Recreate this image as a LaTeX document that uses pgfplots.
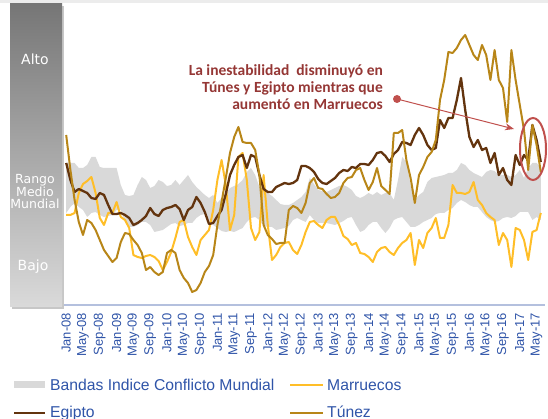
\documentclass[border=0pt]{standalone}
\usepackage{pgfplots}
\pgfplotsset{compat=1.18}
\usepackage{pgfplotstable}
\usepgfplotslibrary{fillbetween}
\usetikzlibrary{arrows.meta}
\usepackage{fontspec}
\setmainfont{Liberation Sans}
\newfontfamily\calibri{Carlito}
\newfontfamily\verd{DejaVu Sans}
\definecolor{bandgray}{RGB}{217,217,217}
\definecolor{marr}{RGB}{255,190,40}
\definecolor{egip}{RGB}{99,52,14}
\definecolor{tun}{RGB}{184,134,24}
\definecolor{lblue}{RGB}{47,84,168}
\definecolor{annred}{RGB}{149,55,53}
\definecolor{arrred}{RGB}{192,80,77}
\definecolor{axisblue}{RGB}{180,192,222}

\pgfplotstableread{
m up lo mar egi tun
0 142 92 90 142 170
1 142 98 90 125 135
2 142 102 92 113 105
3 137 98 112 116 83
4 137 95 121 114 70
5 140 88 124 112 85
6 148 92 128 107 82
7 148 93 112 106 75
8 138 90 87 112 65
9 137 88 80 110 55
10 137 89 92 100 49
11 137 90 92 91 43
12 137 95 103 91 47
13 120 95 88 92 63
14 110 83 85 90 72
15 109 78 77 87 71
16 110 78 50 80 65
17 120 80 48 82 60
18 128 83 47 85 52
19 125 83 49 89 35
20 117 80 50 97 38
21 119 73 48 91 33
22 125 74 44 89 30
23 123 75 35 95 33
24 119 78 43 97 52
25 120 81 53 98 55
26 125 82 67 100 52
27 120 79 83 96 35
28 125 80 85 85 27
29 130 82 68 95 22
30 123 82 58 98 13
31 118 87 50 108 15
32 114 90 65 102 22
33 110 91 70 93 33
34 107 85 75 81 39
35 110 80 95 82 50
36 102 77 125 89 80
37 107 74 145 95 103
38 111 73 120 111 127
39 117 74 75 130 152
40 119 73 90 140 168
41 121 75 148 148 178
42 125 77 152 150 163
43 133 83 125 137 162
44 137 87 77 150 162
45 130 88 65 148 155
46 118 85 73 130 130
47 116 79 130 116 80
48 112 78 80 113 70
49 109 78 45 113 66
50 105 75 50 118 61
51 101 76 58 120 62
52 100 77 62 122 62
53 100 79 63 121 95
54 102 85 55 122 99
55 105 87 51 125 97
56 108 85 60 139 92
57 113 83 73 139 102
58 127 90 83 137 122
59 121 85 84 133 127
60 115 82 80 126 117
61 114 82 77 122 116
62 113 82 85 121 111
63 115 81 88 124 107
64 117 80 88 127 108
65 119 82 80 132 112
66 120 84 69 135 122
67 118 87 66 134 127
68 115 88 60 138 128
69 109 80 62 137 135
70 107 73 52 141 137
71 109 75 51 141 125
72 112 80 48 140 115
73 110 83 43 145 123
74 113 83 53 152 137
75 110 77 57 153 119
76 112 72 58 149 115
77 112 77 53 143 111
78 105 85 50 151 172
79 125 87 57 155 172
80 148 88 62 163 175
81 143 83 65 162 145
82 120 78 72 160 127
83 105 78 40 170 102
84 110 80 65 177 130
85 113 83 57 170 138
86 123 85 72 160 148
87 127 87 77 155 153
88 128 91 87 157 165
89 129 92 67 185 205
90 130 92 67 177 225
91 132 95 80 187 253
92 132 97 120 187 252
93 135 102 112 205 257
94 142 105 112 227 265
95 140 103 111 195 270
96 135 100 113 168 260
97 132 98 123 158 250
98 130 98 105 165 245
99 128 93 100 155 260
100 133 88 92 157 250
101 135 85 88 142 225
102 134 83 85 152 255
103 130 84 60 130 225
104 130 87 72 137 217
105 130 88 65 125 183
106 128 87 38 120 255
107 130 89 77 150 225
108 135 93 75 140 200
109 127 93 65 150 175
110 137 93 45 145 135
111 142 85 73 180 180
112 142 88 75 165 160
113 138 85 92 143 133
}\data

\begin{document}
\begin{tikzpicture}[x=1pt,y=1pt]
\fill[gray!15] (0,416) rectangle (548,419);
% left scale bar
\fill[black!22] (12,110) rectangle (64,413);
\shade[top color={rgb,255:red,118;green,118;blue,118}, bottom color={rgb,255:red,218;green,218;blue,218}] (10,112) rectangle (62,415);
\node[text=white, font=\verd\fontsize{14}{14}\selectfont] at (35,360) {Alto};
\node[text=white, font=\verd\fontsize{12.5}{12.5}\selectfont, align=center, inner sep=0pt] at (35,227) {Rango\\Medio\\Mundial};
\node[text=white, font=\verd\fontsize{14}{14}\selectfont] at (33,152) {Bajo};

\begin{axis}[
  at={(62pt,114pt)}, anchor=south west,
  width=483pt, height=301pt, scale only axis,
  xmin=-1, xmax=114, ymin=0, ymax=301,
  axis x line*=bottom, axis y line=none,
  x axis line style={axisblue, line width=1.2pt},
  xtick={0,4,...,112},
  xticklabels={Jan-08,May-08,Sep-08,Jan-09,May-09,Sep-09,Jan-10,May-10,Sep-10,Jan-11,May-11,Sep-11,Jan-12,May-12,Sep-12,Jan-13,May-13,Sep-13,Jan-14,May-14,Sep-14,Jan-15,May-15,Sep-15,Jan-16,May-16,Sep-16,Jan-17,May-17},
  major tick length=0pt,
  xticklabel style={rotate=90, anchor=east, inner xsep=8pt, inner ysep=0pt, text=lblue, font=\fontsize{13}{13}\selectfont},
]
\addplot[name path=up, draw=none, forget plot] table[x=m,y=up]{\data};
\addplot[name path=lo, draw=none, forget plot] table[x=m,y=lo]{\data};
\addplot[bandgray, draw=none] fill between[of=up and lo];
\addplot[marr, line width=2pt, line join=round] table[x=m,y=mar]{\data};
\addplot[egip, line width=2.3pt, line join=round] table[x=m,y=egi]{\data};
\addplot[tun, line width=2pt, line join=round] table[x=m,y=tun]{\data};
\end{axis}

% legend
\begin{scope}[font=\fontsize{15.7}{15.7}\selectfont]
\fill[bandgray] (14,30.5) rectangle (45,37.5);
\node[anchor=base west, inner sep=0pt, text=lblue] at (50,28.5) {Bandas Indice Conflicto Mundial};
\draw[marr, line width=2pt] (290,34) -- (323,34);
\node[anchor=base west, inner sep=0pt, text=lblue] at (327,28.5) {Marruecos};
\draw[egip, line width=2.5pt] (14,6) -- (45,6);
\node[anchor=base west, inner sep=0pt, text=lblue] at (50,1.5) {Egipto};
\draw[tun, line width=2pt] (290,6) -- (323,6);
\node[anchor=base west, inner sep=0pt, text=lblue] at (327,1.5) {Túnez};
\end{scope}

% annotation
\node[anchor=east, align=right, inner sep=0pt, text=annred, font=\calibri\bfseries\fontsize{15.5}{16.8}\selectfont] at (383,332) {La inestabilidad\ \ disminuyó en\\Túnes y Egipto mientras que\\aumentó en Marruecos};
\fill[arrred] (397,320) circle (4);
\draw[arrred, line width=1pt, -{Stealth[length=9pt,width=7pt]}] (397,320) -- (514,290);
\draw[arrred, line width=2pt] (533,270) ellipse (13 and 31);
\pgfresetboundingbox
\path[use as bounding box] (0,0) rectangle (548,419);
\end{tikzpicture}
\end{document}
